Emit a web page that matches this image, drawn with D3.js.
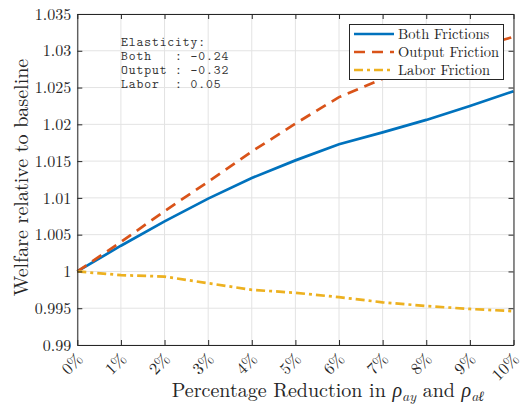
<!DOCTYPE html>
<html>
<head>
<meta charset="utf-8">
<script src="https://cdn.jsdelivr.net/npm/d3@7"></script>
<style>
  html, body { margin: 0; padding: 0; background: #fff; }
  svg { display: block; }
</style>
</head>
<body>
<svg id="chart" width="521" height="411"></svg>
<script>
// Reduction steps (percent) and welfare relative to baseline for each case
const reductions = [0, 1, 2, 3, 4, 5, 6, 7, 8, 9, 10];
const bothFrictions   = [1.0000, 1.0035, 1.0068, 1.0099, 1.0127, 1.0151, 1.0173, 1.0189, 1.0206, 1.0225, 1.0245];
const outputFriction  = [1.0000, 1.0040, 1.0082, 1.0122, 1.0163, 1.0201, 1.0237, 1.0262, 1.0283, 1.0302, 1.0319];
const laborFriction   = [1.0000, 0.9995, 0.9993, 0.9984, 0.9975, 0.9971, 0.9965, 0.9958, 0.9953, 0.9949, 0.9946];
const yTicks = [0.99, 0.995, 1, 1.005, 1.01, 1.015, 1.02, 1.025, 1.03, 1.035];
const xTickLabels = ["0%", "1%", "2%", "3%", "4%", "5%", "6%", "7%", "8%", "9%", "10%"];
const seriesNames = ["Both Frictions", "Output Friction", "Labor Friction"];
const elasticityLines = ["Elasticity:", "Both   : -0.24", "Output : -0.32", "Labor  : 0.05"];

const svg = d3.select("#chart");
const plotLeft = 77.3, plotRight = 513.5, plotTop = 14, plotBottom = 345;

const x = d3.scaleLinear().domain([0, 10]).range([plotLeft, plotRight]);
const y = d3.scaleLinear().domain([0.99, 1.035]).range([plotBottom, plotTop]);

const axisColor = "#262626";
const serif = "'Latin Modern Roman', 'Liberation Serif', serif";
const mono = "'Latin Modern Mono', 'Nimbus Mono PS', 'Liberation Mono', monospace";

// grid
const grid = svg.append("g");
grid.selectAll("line.gx").data(reductions).join("line")
  .attr("x1", d => x(d)).attr("x2", d => x(d))
  .attr("y1", plotTop).attr("y2", plotBottom)
  .attr("stroke", "#e3e3e3").attr("stroke-width", 1);
grid.selectAll("line.gy").data(yTicks).join("line")
  .attr("y1", d => y(d)).attr("y2", d => y(d))
  .attr("x1", plotLeft).attr("x2", plotRight)
  .attr("stroke", "#e3e3e3").attr("stroke-width", 1);

// lines
const series = [
  { values: bothFrictions,  color: "#0072BD", dash: null },
  { values: outputFriction, color: "#D95319", dash: "11,7" },
  { values: laborFriction,  color: "#EDB120", dash: "9,4,3,4" }
];
const line = d3.line().x((d, i) => x(reductions[i])).y(d => y(d));
series.forEach(s => {
  svg.append("path")
    .datum(s.values)
    .attr("d", line)
    .attr("fill", "none")
    .attr("stroke", s.color)
    .attr("stroke-width", 2.7)
    .attr("stroke-dasharray", s.dash);
});

// axes (ticks point inward)
const xAxis = d3.axisBottom(x).tickValues(reductions)
  .tickFormat((d, i) => xTickLabels[i]).tickSizeInner(-5).tickSizeOuter(0);
const gx = svg.append("g").attr("transform", `translate(0,${plotBottom})`).call(xAxis);
gx.selectAll("text")
  .attr("font-family", serif).attr("font-size", 16.5).attr("fill", axisColor)
  .attr("text-anchor", "end")
  .attr("dy", null).attr("y", 0)
  .attr("transform", "translate(6,15) rotate(-45)");

const yAxis = d3.axisLeft(y).tickValues(yTicks).tickFormat(d3.format("")).tickSizeInner(-5).tickSizeOuter(0);
const gy = svg.append("g").attr("transform", `translate(${plotLeft},0)`).call(yAxis);
gy.selectAll("text").attr("font-family", serif).attr("font-size", 16).attr("fill", axisColor).attr("x", -6);

// mirrored top / right ticks
const gxt = svg.append("g").attr("transform", `translate(0,${plotTop})`)
  .call(d3.axisTop(x).tickValues(reductions).tickFormat("").tickSizeInner(-5).tickSizeOuter(0));
const gyr = svg.append("g").attr("transform", `translate(${plotRight},0)`)
  .call(d3.axisRight(y).tickValues(yTicks).tickFormat("").tickSizeInner(-5).tickSizeOuter(0));

[gx, gy, gxt, gyr].forEach(g => {
  g.select(".domain").attr("stroke", axisColor).attr("stroke-width", 1);
  g.selectAll(".tick line").attr("stroke", axisColor).attr("stroke-width", 1);
});

// axis titles
const xt = svg.append("text")
  .attr("x", 328).attr("y", 397)
  .attr("text-anchor", "middle")
  .attr("font-family", serif).attr("font-size", 20).attr("fill", axisColor);
xt.append("tspan").text("Percentage Reduction in ");
xt.append("tspan").attr("font-style", "italic").text("ρ");
xt.append("tspan").attr("font-style", "italic").attr("font-size", 14).attr("dy", 4).text("ay");
xt.append("tspan").attr("dy", -4).text(" and ");
xt.append("tspan").attr("font-style", "italic").text("ρ");
xt.append("tspan").attr("font-style", "italic").attr("font-size", 14).attr("dy", 4).text("aℓ");

svg.append("text")
  .attr("transform", `translate(27.5,177.5) rotate(-90)`)
  .attr("text-anchor", "middle")
  .attr("font-family", serif).attr("font-size", 20).attr("fill", axisColor)
  .text("Welfare relative to baseline");

// elasticity annotation
svg.append("g").selectAll("text").data(elasticityLines).join("text")
  .attr("x", 121).attr("y", (d, i) => 45.5 + i * 14)
  .attr("font-family", mono)
  .attr("font-size", 13).attr("letter-spacing", 0.9).attr("fill", "#333")
  .attr("xml:space", "preserve")
  .style("white-space", "pre")
  .text(d => d);

// legend
const lg = svg.append("g");
lg.append("rect").attr("x", 349.5).attr("y", 24.5).attr("width", 154).attr("height", 55)
  .attr("fill", "#fff").attr("stroke", axisColor).attr("stroke-width", 1);
series.forEach((s, i) => {
  const yy = 34 + i * 18;
  lg.append("line").attr("x1", 354).attr("x2", 394).attr("y1", yy).attr("y2", yy)
    .attr("stroke", s.color).attr("stroke-width", 2.7).attr("stroke-dasharray", s.dash);
  lg.append("text").attr("x", 398).attr("y", yy + 4.5)
    .attr("font-family", serif).attr("font-size", 14.5).attr("fill", axisColor)
    .text(seriesNames[i]);
});
</script>
</body>
</html>
